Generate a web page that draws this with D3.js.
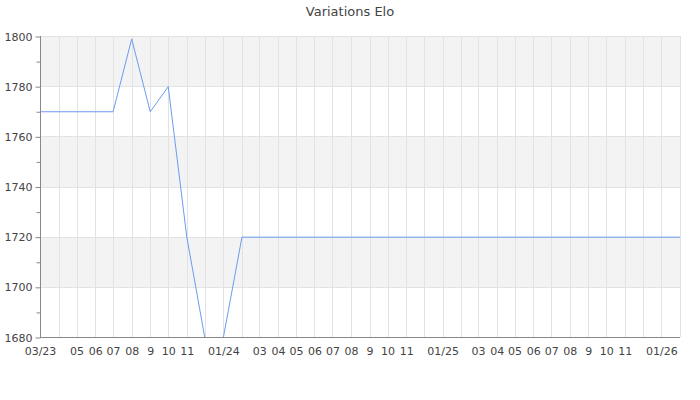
<!DOCTYPE html>
<html lang="fr">
<head>
<meta charset="utf-8">
<script src="https://d3js.org/d3.v7.min.js"></script>
<style>
  body { margin: 0; background: #fff; }
  text { font-family: "DejaVu Sans", sans-serif; fill: #444; }
</style>
</head>
<body>
<svg width="700" height="400"></svg>
<script>
// elo values at the points where the curve changes
var dates = ["2023-03-01", "2023-07-01", "2023-08-01", "2023-09-01", "2023-10-01",
             "2023-11-01", "2023-12-01", "2024-01-01", "2024-02-01", "2026-02-01"];
var elo = [1770, 1770, 1799, 1770, 1780, 1720, 1680, 1680, 1720, 1720];

// one label per month, Mar 2023 -> Feb 2026 (blank = hidden by overlap)
var tickLabels = ["03/23", "", "05", "06", "07", "08", "9", "10", "11", "", "01/24", "",
                  "03", "04", "05", "06", "07", "08", "9", "10", "11", "", "01/25", "",
                  "03", "04", "05", "06", "07", "08", "9", "10", "11", "", "01/26", ""];
var yTicks = [1680, 1700, 1720, 1740, 1760, 1780, 1800];
var title = "Variations Elo";

var parse = d3.timeParse("%Y-%m-%d");
var data = dates.map(function (d, i) { return { date: parse(d), elo: elo[i] }; });

var svg = d3.select("svg");
var mLeft = 40, mRight = 680, mTop = 36, mBottom = 337;

var x = d3.scaleTime()
  .domain([parse("2023-03-01"), parse("2026-02-01")])
  .range([mLeft, mRight]);
var y = d3.scaleLinear()
  .domain([1680, 1800])
  .range([mBottom + 0.5, mTop + 0.5]);

var months = d3.timeMonth.range(parse("2023-03-01"), parse("2026-03-01"));

// alternating bands
svg.append("g").selectAll("rect")
  .data(yTicks.slice(0, -1))
  .enter().append("rect")
  .attr("x", mLeft)
  .attr("y", function (d) { return y(d + 20); })
  .attr("width", mRight - mLeft)
  .attr("height", function (d) { return y(d) - y(d + 20); })
  .attr("fill", function (d, i) { return i % 2 ? "#f3f3f3" : "#fff"; });

// grid
var grid = svg.append("g").attr("stroke", "#e2e2e2");
grid.selectAll(".h").data(yTicks).enter().append("line")
  .attr("x1", mLeft).attr("x2", mRight)
  .attr("y1", function (d) { return Math.round(y(d) - 0.5) + 0.5; })
  .attr("y2", function (d) { return Math.round(y(d) - 0.5) + 0.5; });
grid.selectAll(".v").data(months.slice(1)).enter().append("line")
  .attr("x1", function (d) { return Math.round(x(d)) + 0.5; })
  .attr("x2", function (d) { return Math.round(x(d)) + 0.5; })
  .attr("y1", mTop).attr("y2", mBottom);

// line
svg.append("path")
  .datum(data)
  .attr("fill", "none")
  .attr("stroke", "#6b9bf2")
  .attr("stroke-width", 1)
  .attr("d", d3.line()
    .x(function (d) { return x(d.date); })
    .y(function (d) { return y(d.elo); }));

// y axis
var yAxis = d3.axisLeft(y)
  .tickValues(d3.range(1680, 1801, 10))
  .tickSize(5)
  .tickPadding(3)
  .tickFormat(function (d) { return d % 20 === 0 ? d : ""; });
var gy = svg.append("g")
  .attr("transform", "translate(" + (mLeft + 0.5) + ",0)")
  .call(yAxis);
gy.select(".domain").attr("stroke", "#888").attr("d", "M0," + mTop + "V" + (mBottom + 0.5));
gy.selectAll(".tick line").attr("stroke", "#888")
  .attr("x2", function (d) { return d % 20 === 0 ? -5 : -4; });
gy.selectAll("text").attr("font-size", "11px").attr("fill", "#444")
  .attr("font-family", "DejaVu Sans, sans-serif");

// x axis
var xAxis = d3.axisBottom(x)
  .tickValues(months)
  .tickSize(0)
  .tickPadding(10)
  .tickFormat(function (d, i) { return tickLabels[i]; });
var gx = svg.append("g")
  .attr("transform", "translate(0," + (mBottom + 0.5) + ")")
  .call(xAxis);
gx.select(".domain").attr("stroke", "#888").attr("d", "M" + mLeft + ",0H" + mRight);
gx.selectAll("text").attr("font-size", "11px").attr("fill", "#444")
  .attr("font-family", "DejaVu Sans, sans-serif");

// title
svg.append("text")
  .attr("x", 350)
  .attr("y", 16)
  .attr("text-anchor", "middle")
  .attr("font-size", "13px")
  .text(title);
</script>
</body>
</html>
